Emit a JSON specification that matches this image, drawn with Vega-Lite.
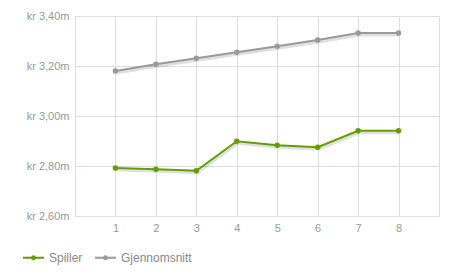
{
  "$schema": "https://vega.github.io/schema/vega-lite/v6.json",
  "width": 364,
  "height": 200,
  "autosize": {"type": "none"},
  "padding": {"left": 75, "top": 16, "right": 15, "bottom": 63},
  "background": "white",
  "config": {
    "font": "Liberation Sans",
    "view": {"stroke": "#dddddd", "strokeWidth": 1},
    "axis": {
      "gridColor": "#dddddd",
      "gridWidth": 1,
      "domain": false,
      "ticks": false,
      "labelColor": "#999999",
      "labelFont": "Liberation Sans",
      "labelFontSize": 11,
      "title": null
    }
  },
  "data": {
    "values": [
      {"runde": 1, "serie": "Spiller", "verdi": 2.792},
      {"runde": 2, "serie": "Spiller", "verdi": 2.787},
      {"runde": 3, "serie": "Spiller", "verdi": 2.781},
      {"runde": 4, "serie": "Spiller", "verdi": 2.899},
      {"runde": 5, "serie": "Spiller", "verdi": 2.883},
      {"runde": 6, "serie": "Spiller", "verdi": 2.875},
      {"runde": 7, "serie": "Spiller", "verdi": 2.941},
      {"runde": 8, "serie": "Spiller", "verdi": 2.941},
      {"runde": 1, "serie": "Gjennomsnitt", "verdi": 3.180},
      {"runde": 2, "serie": "Gjennomsnitt", "verdi": 3.207},
      {"runde": 3, "serie": "Gjennomsnitt", "verdi": 3.231},
      {"runde": 4, "serie": "Gjennomsnitt", "verdi": 3.255},
      {"runde": 5, "serie": "Gjennomsnitt", "verdi": 3.279},
      {"runde": 6, "serie": "Gjennomsnitt", "verdi": 3.304},
      {"runde": 7, "serie": "Gjennomsnitt", "verdi": 3.332},
      {"runde": 8, "serie": "Gjennomsnitt", "verdi": 3.332}
    ]
  },
  "encoding": {
    "x": {
      "field": "runde",
      "type": "quantitative",
      "scale": {"domain": [0, 9], "nice": false},
      "axis": {"values": [1, 2, 3, 4, 5, 6, 7, 8], "labelPadding": 6, "format": "d"}
    },
    "y": {
      "field": "verdi",
      "type": "quantitative",
      "scale": {"domain": [2.6, 3.4], "nice": false, "zero": false},
      "axis": {
        "values": [2.6, 2.8, 3.0, 3.2, 3.4],
        "labelPadding": 6,
        "labelExpr": "'kr ' + replace(format(datum.value, '.2f'), '.', ',') + 'm'"
      }
    }
  },
  "layer": [
    {
      "mark": {"type": "line", "color": "#000000", "opacity": 0.12, "strokeWidth": 3, "xOffset": 1, "yOffset": 2},
      "encoding": {"detail": {"field": "serie"}}
    },
    {
      "mark": {"type": "line", "strokeWidth": 2, "point": {"filled": true, "size": 30}},
      "encoding": {
        "color": {
          "field": "serie",
          "type": "nominal",
          "scale": {"domain": ["Spiller", "Gjennomsnitt"], "range": ["#669c00", "#999999"]},
          "legend": {
            "title": null,
            "orient": "none",
            "direction": "horizontal",
            "legendX": -52,
            "legendY": 231,
            "symbolType": "M-1,-0.1L1,-0.1L1,0.1L-1,0.1Z M-0.24,0A0.24,0.24 0 1,1 0.24,0A0.24,0.24 0 1,1 -0.24,0Z",
            "symbolSize": 441,
            "labelFontSize": 12,
            "labelColor": "#888888",
            "labelFont": "Liberation Sans",
            "labelOffset": 5,
            "columnPadding": 12,
            "encode": {
              "symbols": {
                "update": {
                  "fill": {"scale": "color", "field": "value"},
                  "strokeWidth": {"value": 0},
                  "opacity": {"value": 1}
                }
              }
            }
          }
        }
      }
    }
  ]
}
